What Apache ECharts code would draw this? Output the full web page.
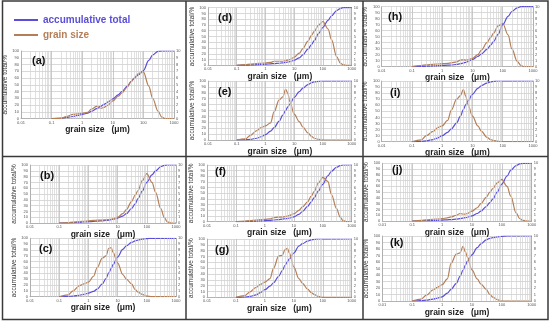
<!DOCTYPE html>
<html><head><meta charset="utf-8">
<script src="https://cdn.jsdelivr.net/npm/echarts@6/dist/echarts.min.js"></script>
<style>html,body{margin:0;padding:0;background:#fff}#c{width:550px;height:322px}</style>
</head><body><div id="c"></div>
<script>
// grain size sample points (µm)
const grainSize = [0.1,0.2,0.3,0.5,0.7,1,1.5,2,3,4,5,6,7,10,15,20,30,40,50,70,100,150,200,300,400,500,700,1000];
const xTickLabels = ['0.01','0.1','1','10','100','1000'];
const yLeftTicks = [0,10,20,30,40,50,60,70,80,90,100];
const yRightTicks = [0,1,2,3,4,5,6,7,8,9,10];
const seriesNames = ['accumulative total','grain size'];
const panelLabels = ['(a)','(b)','(c)','(d)','(e)','(f)','(g)','(h)','(i)','(j)','(k)'];

// accumulative total (%), left axis
const cumA = [0,0.5,1.5,3,4.5,6,8,10.5,14.5,18,20.5,22.5,24.5,29,35,40,48,55,59.5,65,71,86,94,99.5,100,100,100,100];
const cumB = [0,0.3,0.7,1.2,1.7,2.2,2.8,3.2,3.8,4.3,5,5.7,6.5,8.5,12,16,25,33,42,55,70,83,90,97,99.5,100,100,100];
const cumC = [0,0.5,1,2.5,4,6,9,13,22,31,41,48,55,68,81,87,93,95.5,97,98.5,99.5,100,100,100,100,100,100,100];
const cumD = [0,0.3,0.6,1.1,1.5,2,2.6,3,3.6,4.3,5,5.7,6.3,8.8,13,18,28,36,43,55,66,78,86,95,98.5,100,100,100];
const cumE = [0,0.5,1.2,3,5.5,9,15,21,32,42,50,56,61,72,82,88,94,97,98.5,99.5,100,100,100,100,100,100,100,100];
const cumF = [0,0.3,0.6,1,1.4,1.8,2.4,3,3.8,4.5,5.2,5.8,6.3,8.5,13,18,27,35,42,54,66,81,89,96,99,100,100,100];
const cumG = [0,0.5,1.5,4,8,13,19,25,36,46,55,61,66,76,88,92,96.5,98.5,99.3,100,100,100,100,100,100,100,100,100];
const cumH = [0,0.4,0.8,1.3,1.7,2.1,2.5,2.8,3.8,5,6.2,7.3,8.5,12,17,21.5,29,36,42,54,70,84,92,98,100,100,100,100];
const cumI = [0,0.6,1.5,3.5,6,10,15.5,21,31,42,53,61,67,78,88,92.5,96.5,98.5,99.5,100,100,100,100,100,100,100,100,100];
const cumJ = [0,0.3,0.5,0.9,1.2,1.6,2.1,2.5,3.3,4.2,5,5.7,6.5,9,13,17,25,32,38,50,64,78,88,96,99,100,100,100];
const cumK = [0,0.5,1.3,3,4.5,6.5,12,18,27,38,47,55,61,71,82,88,94,96.5,97.5,98.5,99.5,100,100,100,100,100,100,100];

// grain size frequency (%), right axis
const freqA = [0,0,0.3,0.6,0.7,0.75,0.9,1.4,1.8,1.5,1.6,1.8,2.0,2.6,3.3,3.8,4.7,5.5,6.0,6.7,6.9,4.8,3.0,1.1,0.2,0,0,0];
const freqB = [0,0.05,0.15,0.25,0.3,0.35,0.45,0.5,0.5,0.55,0.6,0.65,0.75,1.0,1.6,2.3,3.7,4.8,5.6,7.3,8.5,7.0,5.3,2.5,0.9,0.2,0,0];
const freqC = [0,0.3,1.0,1.9,2.2,2.5,3.5,5.0,6.6,7.0,8.3,8.4,7.6,5.8,3.8,3.0,2.2,1.2,0.8,0.4,0.1,0,0,0,0,0,0,0];
const freqD = [0,0.1,0.2,0.3,0.35,0.4,0.5,0.7,0.7,0.7,0.8,0.9,1.0,1.4,2.1,2.9,4.2,5.2,5.9,7.0,7.6,6.3,4.4,1.5,0.4,0.1,0,0];
const freqE = [0,0.2,0.8,1.6,2.1,2.4,2.9,4.8,6.8,7.3,8.6,7.9,6.5,4.4,3.1,2.2,1.2,0.6,0.3,0.1,0,0,0,0,0,0,0,0];
const freqF = [0,0.1,0.2,0.3,0.35,0.4,0.5,0.7,0.8,0.8,0.9,1.0,1.1,1.4,2.0,2.6,3.5,4.5,5.3,6.8,7.8,7.1,4.8,2.3,0.8,0.2,0,0];
const freqG = [0,0.3,0.9,1.7,2.2,2.6,3.2,5.0,7.1,7.2,8.2,8.4,7.6,5.2,3.2,2.4,1.4,0.8,0.5,0.15,0,0,0,0,0,0,0,0];
const freqH = [0,0.2,0.3,0.4,0.45,0.5,0.55,0.65,0.8,1.1,1.15,1.1,1.15,1.4,2.0,2.8,4.0,4.9,5.6,6.8,7.2,5.3,3.0,0.9,0.2,0,0,0];
const freqI = [0,0.3,1.0,1.7,2.3,2.6,3.5,5.2,7.0,7.6,8.6,7.5,6.2,4.2,2.6,1.7,0.7,0.35,0.2,0.05,0,0,0,0,0,0,0,0];
const freqJ = [0,0.1,0.2,0.3,0.35,0.4,0.55,0.7,1.0,1.3,1.2,1.2,1.3,1.7,2.3,3.0,4.1,5.0,5.6,6.6,7.2,6.0,4.3,1.4,0.4,0.1,0,0];
const freqK = [0,0.3,0.9,1.7,2.1,2.5,3.4,5.8,7.2,7.4,8.4,7.6,6.8,4.8,3.4,2.6,1.8,1.0,0.6,0.2,0,0,0,0,0,0,0,0];

const cumData = [cumA,cumB,cumC,cumD,cumE,cumF,cumG,cumH,cumI,cumJ,cumK];
const freqData = [freqA,freqB,freqC,freqD,freqE,freqF,freqG,freqH,freqI,freqJ,freqK];

// layout (pixels)
const layout = [
 {left:21, top:51, width:153, height:67.5, lx:32, ly:55, xg:6, yg:7},
 {left:30, top:165, width:146, height:58, lx:40, ly:170, xg:4, yg:11},
 {left:30, top:238.3, width:146, height:58.4, lx:39, ly:243, xg:4, yg:11},
 {left:208, top:7.7, width:143.7, height:57.6, lx:218, ly:12, xg:5, yg:7},
 {left:208, top:81, width:143.7, height:59, lx:218, ly:86, xg:5, yg:7},
 {left:207, top:165, width:144.7, height:56.7, lx:215, ly:166, xg:6, yg:7},
 {left:207, top:239, width:144.7, height:58.3, lx:215, ly:244, xg:7, yg:7},
 {left:381.7, top:6.7, width:151.3, height:60, lx:388, ly:11, xg:4, yg:7},
 {left:381.7, top:81, width:151.3, height:60.7, lx:390, ly:87, xg:5, yg:7},
 {left:382.3, top:163.3, width:149.4, height:57.7, lx:392, ly:164, xg:4, yg:7},
 {left:382.3, top:236, width:149.4, height:65, lx:390, ly:237, xg:5, yg:7}
];

const blue = '#5a4ed8', brown = '#b47f58';
const FONT = 'Liberation Sans, Arial, sans-serif';

// minor log grid positions
const minorX = [];
[0.01,0.1,1,10,100].forEach(d => { for (let k=2;k<=9;k++) minorX.push({xAxis: +(d*k).toPrecision(3)}); });

const grids=[], xAxes=[], yAxes=[], series=[], titles=[];
layout.forEach((L,i) => {
  grids.push({left:L.left, top:L.top, width:L.width, height:L.height, containLabel:false});
  xAxes.push({
    type:'log', logBase:10, gridIndex:i, min:0.01, max:1000,
    name:'grain size   (μm)', nameLocation:'middle', nameGap:L.xg,
    nameTextStyle:{fontSize:8.5, fontWeight:'bold', color:'#222', fontFamily:FONT, verticalAlign:'top'},
    axisLine:{show:true, lineStyle:{color:'#aaa', width:0.8}},
    axisTick:{show:false},
    axisLabel:{fontSize:4, color:'#555', margin:2, fontFamily:FONT,
      formatter: v => xTickLabels[Math.round(Math.log10(v))+2]},
    splitLine:{show:true, lineStyle:{color:'#bdbdbd', width:0.8}}
  });
  yAxes.push({
    type:'value', gridIndex:i, min:0, max:100, interval:10, position:'left',
    name:'accumulative total/%', nameLocation:'middle', nameGap:L.yg, nameRotate:90,
    nameTextStyle:{fontSize:6.5, color:'#333', fontFamily:FONT},
    axisLine:{show:true, lineStyle:{color:'#aaa', width:0.8}},
    axisTick:{show:false},
    axisLabel:{fontSize:4, color:'#555', margin:2, fontFamily:FONT,
      formatter: v => String(yLeftTicks[Math.round(v/10)])},
    splitLine:{show:true, lineStyle:{color:'#cfcfcf', width:0.8}}
  });
  yAxes.push({
    type:'value', gridIndex:i, min:0, max:10, interval:1, position:'right',
    axisLine:{show:true, lineStyle:{color:'#aaa', width:0.8}},
    axisTick:{show:false},
    axisLabel:{fontSize:4, color:'#555', margin:2, fontFamily:FONT,
      formatter: v => String(yRightTicks[Math.round(v)])},
    splitLine:{show:false}
  });
  series.push({
    name:seriesNames[0], type:'line', xAxisIndex:i, yAxisIndex:2*i,
    data: grainSize.map((x,j)=>[x,cumData[i][j]]),
    showSymbol:false, smooth:0.35, smoothMonotone:'x',
    lineStyle:{color:blue, width:1.2}, itemStyle:{color:blue}, z:3,
    markLine:{silent:true, symbol:'none', label:{show:false}, animation:false,
      lineStyle:{color:'#d2d2d2', width:0.7, type:'solid'}, data:minorX}
  });
  series.push({
    name:seriesNames[1], type:'line', xAxisIndex:i, yAxisIndex:2*i+1,
    data: grainSize.map((x,j)=>[x,freqData[i][j]]),
    showSymbol:false, smooth:0.35, smoothMonotone:'x',
    lineStyle:{color:brown, width:1.2}, itemStyle:{color:brown}, z:4
  });
  titles.push({text:panelLabels[i], left:L.lx, top:L.ly, padding:0,
    textStyle:{fontSize:11, fontWeight:'bold', color:'#111', fontFamily:FONT}});
});

const chart = echarts.init(document.getElementById('c'), null, {renderer:'canvas'});
chart.setOption({
  animation:false,
  backgroundColor:'#fff',
  title: titles,
  legend:{orient:'vertical', left:9, top:10, itemWidth:24, itemHeight:2, itemGap:5, icon:'rect',
    textStyle:{fontSize:10, fontWeight:'bold', fontFamily:FONT},
    data:[{name:seriesNames[0], textStyle:{color:blue}}, {name:seriesNames[1], textStyle:{color:brown}}]},
  grid: grids, xAxis: xAxes, yAxis: yAxes, series: series,
  graphic:[
    {type:'rect', shape:{x:2.5, y:1, width:545.5, height:318.5}, style:{fill:'none', stroke:'#3a3a3a', lineWidth:1.5}, silent:true},
    {type:'line', shape:{x1:186, y1:1, x2:186, y2:319.5}, style:{stroke:'#3a3a3a', lineWidth:1.5}, silent:true},
    {type:'line', shape:{x1:363, y1:1, x2:363, y2:319.5}, style:{stroke:'#3a3a3a', lineWidth:1.5}, silent:true},
    {type:'line', shape:{x1:2.5, y1:156.5, x2:548, y2:156.5}, style:{stroke:'#3a3a3a', lineWidth:1.5}, silent:true}
  ]
});
</script></body></html>
